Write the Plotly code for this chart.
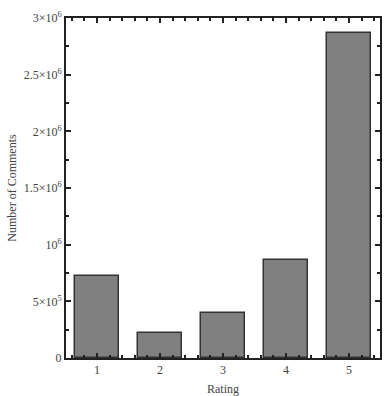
import plotly.graph_objects as go

ratings = [1, 2, 3, 4, 5]
counts = [725000, 220000, 400000, 865000, 2870000]
ytick_vals = [0, 500000, 1000000, 1500000, 2000000, 2500000, 3000000]
ytick_text = ["0", "5×10<sup>5</sup>", "10<sup>6</sup>", "1.5×10<sup>6</sup>",
              "2×10<sup>6</sup>", "2.5×10<sup>6</sup>", "3×10<sup>6</sup>"]

fig = go.Figure(go.Bar(
    x=ratings, y=counts, width=0.7,
    marker=dict(color="#808080", line=dict(color="#333333", width=1.5)),
))
font = "Liberation Serif, Times New Roman, serif"
fig.update_layout(
    width=390, height=396,
    margin=dict(l=66, r=10, t=18, b=38),
    plot_bgcolor="white", paper_bgcolor="white",
    font=dict(family=font, size=12, color="#444444"),
    showlegend=False,
    bargap=0,
)
fig.update_xaxes(
    range=[0.51, 5.49], tickvals=ratings, ticks="inside", ticklen=5, tickwidth=1.5,
    tickcolor="#222", showline=True, linecolor="#222", linewidth=2, mirror="ticks",
    showgrid=False, zeroline=False, automargin=False,
    minor=dict(dtick=0.2, tick0=0, ticks="inside", ticklen=3, tickcolor="#222"),
    title=dict(text="Rating", font=dict(size=12, family=font, color="#444444"), standoff=10),
    tickfont=dict(size=12, family=font, color="#444444"),
)
fig.update_yaxes(
    range=[0, 3000000], tickvals=ytick_vals, ticktext=ytick_text,
    ticks="inside", ticklen=5, tickwidth=1.5, tickcolor="#222",
    showline=True, linecolor="#222", linewidth=2, mirror="ticks",
    showgrid=False, zeroline=False, automargin=False,
    minor=dict(dtick=250000, tick0=0, ticks="inside", ticklen=3, tickcolor="#222"),
    title=dict(text="Number of Comments", font=dict(size=12, family=font, color="#444444"), standoff=4),
    tickfont=dict(size=12, family=font, color="#444444"),
)
fig.write_html("out.html")
